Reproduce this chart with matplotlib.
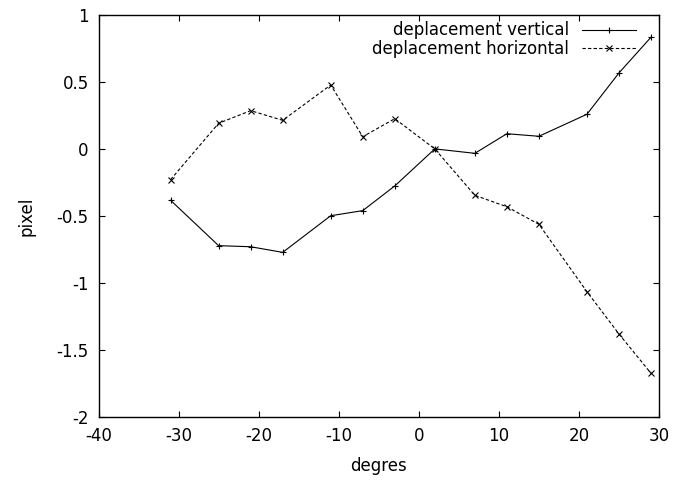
import matplotlib
matplotlib.use("Agg")
import matplotlib.pyplot as plt

# angle (degres) and measured displacement (pixel)
degres = [-31, -25, -21, -17, -11, -7, -3, 2, 7, 11, 15, 21, 25, 29]
dep_vertical = [-0.383, -0.721, -0.729, -0.771, -0.498, -0.460, -0.276, 0.0,
                -0.033, 0.113, 0.094, 0.258, 0.566, 0.832]
dep_horizontal = [-0.229, 0.191, 0.285, 0.213, 0.476, 0.091, 0.225, 0.0,
                  -0.346, -0.431, -0.562, -1.064, -1.379, -1.672]

plt.rcParams["font.family"] = ["DejaVu Sans"]
plt.rcParams["font.size"] = 12

fig = plt.figure(figsize=(6.73, 4.8), dpi=100)
ax = fig.add_axes([0.1464, 0.1306, 0.8328, 0.8388])

ax.plot(degres, dep_vertical, "k-", lw=0.8, marker="+", ms=5, mew=0.8,
        label="deplacement vertical")
ax.plot(degres, dep_horizontal, "k--", lw=0.8, dashes=(3, 2), marker="x", ms=5,
        mew=0.8, label="deplacement horizontal")

ax.set_xlim(-40, 30)
ax.set_ylim(-2, 1)
ax.set_xticks(range(-40, 31, 10))
ax.set_yticks([-2, -1.5, -1, -0.5, 0, 0.5, 1])
ax.set_yticklabels(["-2", "-1.5", "-1", "-0.5", "0", "0.5", "1"])
ax.set_xticklabels([str(v) for v in range(-40, 31, 10)])
ax.tick_params(direction="in", length=4.5, width=0.8, top=True, right=True,
               pad=7)
for s in ax.spines.values():
    s.set_linewidth(1.0)

ax.set_xlabel("degres", labelpad=8.5)
ax.set_ylabel("pixel", labelpad=15)

ax.legend(loc="upper right", frameon=False, markerfirst=False, numpoints=1,
          handlelength=3.2, labelspacing=0.05, borderaxespad=0.0,
          borderpad=0.4, handletextpad=0.8, fontsize=12,
          bbox_to_anchor=(0.97, 1.0))

fig.savefig("out.png", dpi=100)
